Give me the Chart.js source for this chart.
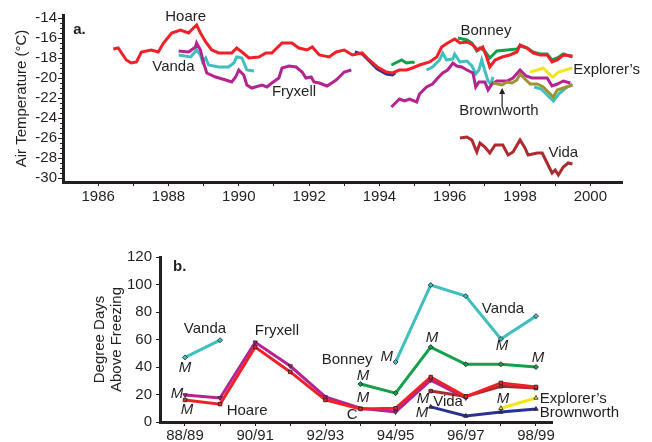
<!DOCTYPE html>
<html>
<head>
<meta charset="utf-8">
<script src="https://cdn.jsdelivr.net/npm/chart.js@4.4.0/dist/chart.umd.min.js"></script>
<style>
  body { margin: 0; background: #fff; }
  #wrap { position: relative; width: 652px; height: 442px; }
  canvas { position: absolute; left: 0; }
  #tempChart { top: 0; }
  #ddChart { top: 230px; }
</style>
</head>
<body>
<div id="wrap">
  <canvas id="tempChart" width="652" height="220"></canvas>
  <canvas id="ddChart" width="652" height="212"></canvas>
</div>
<script>
// ---------- panel a: running mean air temperature, [year, degC] ----------
const hoare = [[1986.43,-17.1],[1986.57,-17.0],[1986.8,-18.2],[1986.94,-18.5],[1987.09,-18.4],[1987.23,-17.4],
  [1987.51,-17.2],[1987.71,-17.4],[1987.86,-16.5],[1988.09,-15.5],[1988.34,-15.2],[1988.57,-15.5],[1988.71,-15.0],
  [1988.8,-14.7],[1988.91,-15.5],[1989.06,-16.4],[1989.23,-17.2],[1989.43,-17.5],[1989.8,-17.5],[1989.94,-17.0],
  [1990.09,-17.4],[1990.29,-18.0],[1990.57,-17.9],[1990.77,-17.5],[1990.94,-17.5],[1991.23,-16.5],[1991.51,-16.5],
  [1991.71,-17.0],[1991.94,-17.2],[1992.09,-16.9],[1992.29,-17.7],[1992.57,-17.9],[1992.77,-17.4],[1993.0,-17.2],
  [1993.23,-17.7],[1993.51,-17.5],[1993.71,-18.2],[1993.94,-18.9],[1994.2,-19.4],[1994.37,-19.5],[1994.57,-19.2],
  [1994.77,-19.2],[1994.94,-19.0],[1995.14,-18.7],[1995.43,-18.4],[1995.63,-17.9],[1995.77,-16.9],[1995.94,-16.5],
  [1996.14,-16.1],[1996.29,-16.5],[1996.49,-16.4],[1996.66,-16.7],[1996.8,-17.2],[1996.94,-16.9],[1997.06,-18.0],
  [1997.14,-18.9],[1997.29,-18.2],[1997.49,-17.9],[1997.71,-17.7],[1997.91,-17.4],[1998.0,-16.7],[1998.2,-17.0],
  [1998.37,-17.5],[1998.57,-17.7],[1998.77,-17.7],[1998.91,-18.4],[1999.06,-18.2],[1999.23,-17.7],[1999.49,-17.8]];
const vandaA = [[1988.29,-17.7],[1988.63,-17.9],[1988.8,-17.2],[1988.91,-17.7],[1988.97,-18.4],[1989.06,-18.0],
  [1989.14,-18.7],[1989.43,-18.9],[1989.71,-18.9],[1989.86,-18.5],[1989.94,-17.9],[1990.09,-18.0],[1990.23,-19.2],[1990.43,-19.3]];
const vandaB = [[1995.34,-19.2],[1995.51,-18.9],[1995.71,-18.2],[1995.8,-17.5],[1995.91,-18.2],[1996.09,-18.1],
  [1996.14,-17.6],[1996.29,-18.4],[1996.49,-18.3],[1996.63,-18.8],[1996.74,-19.6],[1996.83,-19.2],[1996.91,-18.2],
  [1997.0,-19.3],[1997.09,-20.3],[1997.17,-20.6],[1997.23,-19.9]];
const vandaC = [[1998.4,-20.9],[1998.6,-21.1],[1998.8,-21.8],[1998.95,-22.3],[1999.1,-21.6],[1999.3,-21.0],[1999.49,-20.6]];
const fryxellA = [[1988.29,-17.3],[1988.57,-17.4],[1988.77,-16.9],[1988.8,-16.5],[1988.91,-17.2],[1989.0,-18.5],
  [1989.09,-19.5],[1989.34,-19.9],[1989.63,-20.2],[1989.8,-20.4],[1989.91,-19.9],[1990.0,-19.2],[1990.14,-19.7],
  [1990.23,-20.7],[1990.37,-21.0],[1990.66,-20.7],[1990.8,-20.9],[1990.94,-20.5],[1991.14,-20.0],[1991.23,-19.0],
  [1991.43,-18.8],[1991.63,-18.9],[1991.8,-19.4],[1991.91,-20.0],[1992.06,-19.9],[1992.14,-20.4],[1992.29,-20.5],
  [1992.51,-20.8],[1992.77,-20.2],[1993.0,-19.4],[1993.2,-19.2]];
const fryxellB = [[1994.34,-22.9],[1994.57,-22.1],[1994.71,-22.3],[1994.86,-22.1],[1995.06,-22.4],[1995.14,-21.6],
  [1995.34,-20.9],[1995.51,-20.6],[1995.66,-20.0],[1995.8,-19.5],[1995.94,-19.2],[1996.09,-18.5],[1996.2,-18.8],
  [1996.34,-18.9],[1996.49,-19.2],[1996.66,-19.5],[1996.74,-20.9],[1996.83,-20.4],[1997.0,-20.4],[1997.09,-21.2],
  [1997.2,-20.6],[1997.34,-20.3],[1997.63,-20.3],[1997.8,-20.0],[1998.0,-19.2],[1998.17,-19.8],[1998.34,-20.0],
  [1998.57,-20.0],[1998.77,-20.0],[1998.91,-20.8],[1999.06,-20.6],[1999.23,-20.3],[1999.43,-20.5]];
const bonneyA = [[1994.34,-18.7],[1994.63,-18.2],[1994.77,-18.5],[1994.94,-18.4],[1995.0,-18.5]];
const bonneyB = [[1996.23,-16.0],[1996.49,-16.2],[1996.63,-16.5],[1996.77,-17.3],[1996.86,-17.0],[1997.0,-17.3],
  [1997.14,-18.0],[1997.34,-17.3],[1997.63,-17.2],[1997.91,-17.1],[1998.0,-16.8],[1998.2,-17.0],[1998.37,-17.4],
  [1998.57,-17.6],[1998.77,-17.6],[1998.91,-18.2],[1999.06,-18.0],[1999.23,-17.6],[1999.49,-17.9]];
const commonwealth = [[1993.3,-17.4],[1993.51,-17.6],[1993.71,-18.3],[1993.94,-19.1],[1994.2,-19.6],[1994.37,-19.7],[1994.45,-19.5]];
const brownworth = [[1997.23,-20.5],[1997.49,-20.7],[1997.63,-20.4],[1997.77,-20.5],[1997.91,-20.2],[1998.0,-19.6],
  [1998.14,-20.1],[1998.29,-20.6],[1998.49,-20.6],[1998.66,-20.9],[1998.86,-21.6],[1998.94,-21.9],[1999.06,-21.2],
  [1999.23,-21.0],[1999.49,-20.7]];
const explorers = [[1998.29,-19.4],[1998.49,-19.2],[1998.66,-19.0],[1998.86,-19.7],[1998.94,-19.9],[1999.09,-19.4],
  [1999.29,-19.2],[1999.49,-19.0]];
const vida = [[1996.29,-26.0],[1996.49,-25.9],[1996.63,-26.2],[1996.77,-27.4],[1996.86,-26.5],[1997.0,-26.9],
  [1997.14,-27.5],[1997.29,-26.7],[1997.51,-26.7],[1997.66,-27.7],[1997.8,-27.4],[1998.0,-26.2],[1998.14,-27.0],
  [1998.23,-27.7],[1998.49,-27.5],[1998.63,-27.5],[1998.77,-28.5],[1998.91,-29.5],[1999.0,-29.2],[1999.09,-29.7],
  [1999.23,-28.9],[1999.37,-28.5],[1999.49,-28.6]];
const yearTicks = [1986,1987,1988,1989,1990,1991,1992,1993,1994,1995,1996,1997,1998,1999,2000];
const tempTicks = [-30,-28,-26,-24,-22,-20,-18,-16,-14];

// ---------- panel b: degree days above freezing per season ----------
const seasons = ['88/89','89/90','90/91','91/92','92/93','93/94','94/95','95/96','96/97','97/98','98/99'];
const vandaDD      = [47, 59.5, null, null, null, null, 43.6, 99.6, 91.6, 60.4, 77];
const bonneyDD     = [null, null, null, null, null, 27.6, 21, 54.5, 42, 42, 40];
const fryxellDD    = [19.6, 17.5, 58, 40.7, 18.2, 10, 7.3, 30.5, 17.5, null, null];
const vidaDD       = [null, null, null, null, null, null, null, 22.5, 18.5, 26, 24.7];
const hoareDD      = [16, 13, 54.5, 36.4, 16, 9.5, 10, 32.7, 18.5, 28.4, 25.5];
const brownworthDD = [null, null, null, null, null, null, null, 11, 4.4, 7.3, 9.4];
const explorersDD  = [null, null, null, null, null, null, null, null, null, 10, 17.5];
const ddTicks = [0, 20, 40, 60, 80, 100, 120];

const INK = '#231f20';
const FONT = '"Liberation Sans", Arial, sans-serif';
Chart.defaults.font.family = FONT;
Chart.defaults.font.size = 15;
Chart.defaults.color = INK;

const pts = arr => arr.map(p => ({x: p[0], y: p[1]}));
const seasonPts = arr => arr.map((v, i) => ({x: i, y: v}));

// text notes, arrow and minor ticks, placed through the chart scales
const notesPlugin = {
  id: 'notes',
  afterDatasetsDraw(chart, args, opts) {
    const {ctx, scales: {x, y}} = chart;
    ctx.save();
    ctx.strokeStyle = INK;
    ctx.fillStyle = INK;
    if (opts.minorY) {
      ctx.lineWidth = 1;
      for (let v = Math.ceil(y.min / opts.minorY) * opts.minorY; v <= y.max; v += opts.minorY) {
        const py = Math.round(y.getPixelForValue(v)) + 0.5;
        ctx.beginPath();
        ctx.moveTo(x.left - 3, py);
        ctx.lineTo(x.left, py);
        ctx.stroke();
      }
    }
    if (opts.arrow) {
      const a = opts.arrow;
      const ax = x.getPixelForValue(a.x), y1 = y.getPixelForValue(a.y1), y2 = y.getPixelForValue(a.y2);
      ctx.lineWidth = 1.2;
      ctx.beginPath();
      ctx.moveTo(ax, y1);
      ctx.lineTo(ax, y2 + 4);
      ctx.stroke();
      ctx.beginPath();
      ctx.moveTo(ax, y2);
      ctx.lineTo(ax - 3, y2 + 6);
      ctx.lineTo(ax + 3, y2 + 6);
      ctx.closePath();
      ctx.fill();
    }
    ctx.textBaseline = 'middle';
    (opts.items || []).forEach(n => {
      ctx.font = (n.style || '') + ' 15px ' + FONT;
      ctx.textAlign = n.align || 'center';
      ctx.fillText(n.text, x.getPixelForValue(n.x), y.getPixelForValue(n.y));
    });
    ctx.restore();
  }
};

const line = (label, data, color) => ({label, data: pts(data), borderColor: color, borderWidth: 3, pointRadius: 0, tension: 0});

new Chart(document.getElementById('tempChart'), {
  type: 'line',
  data: {
    datasets: [
      line('Hoare', hoare, '#ee2028'),
      line('Explorer\u2019s', explorers, '#f3e61a'),
      line('Brownworth', brownworth, '#9c9432'),
      line('Fryxell', fryxellA, '#b52390'),
      line('Fryxell', fryxellB, '#b52390'),
      line('Vanda', vandaA, '#3fbfbd'),
      line('Vanda', vandaB, '#3fbfbd'),
      line('Vanda', vandaC, '#3fbfbd'),
      line('Bonney', bonneyA, '#12a04a'),
      line('Bonney', bonneyB, '#12a04a'),
      line('Commonwealth', commonwealth, '#2b3192'),
      line('Vida', vida, '#ad2a2e')
    ]
  },
  options: {
    responsive: false,
    animation: false,
    layout: {padding: {left: 0, top: 15, right: 30, bottom: 0}},
    plugins: {
      legend: {display: false},
      tooltip: {enabled: false},
      notes: {
        minorY: 0.5,
        arrow: {x: 1997.49, y1: -22.9, y2: -21.0},
        items: [
          {text: 'a.', x: 1985.29, y: -15.2, align: 'left', style: 'bold'},
          {text: 'Hoare', x: 1988.49, y: -13.9},
          {text: 'Vanda', x: 1988.14, y: -18.9},
          {text: 'Fryxell', x: 1991.57, y: -21.4},
          {text: 'Bonney', x: 1997.03, y: -15.3},
          {text: 'Explorer\u2019s', x: 1999.51, y: -19.2, align: 'left'},
          {text: 'Brownworth', x: 1997.4, y: -23.3},
          {text: 'Vida', x: 1999.23, y: -27.5}
        ]
      }
    },
    scales: {
      x: {
        type: 'linear', min: 1985, max: 2000.9,
        afterBuildTicks: s => { s.ticks = yearTicks.map(v => ({value: v})); },
        afterFit: s => { s.height = 38; },
        ticks: {callback: v => (v % 2 === 0 ? String(v) : ''), autoSkip: false, maxRotation: 0, padding: 2},
        grid: {drawOnChartArea: false, tickLength: 4, color: INK},
        border: {color: INK, width: 3}
      },
      y: {
        min: -30.4, max: -13.7,
        afterBuildTicks: s => { s.ticks = tempTicks.map(v => ({value: v})); },
        afterFit: s => { s.width = 63; },
        title: {display: true, text: 'Air Temperature (\u00B0C)', padding: {top: 13, bottom: 0}, font: {size: 15}},
        ticks: {padding: 1, autoSkip: false},
        grid: {drawOnChartArea: false, tickLength: 5, color: INK},
        border: {color: INK, width: 3}
      }
    }
  },
  plugins: [notesPlugin]
});

const ddLine = (label, data, color, shape, rot) => ({
  label, data: seasonPts(data), borderColor: color, borderWidth: 3, tension: 0,
  pointStyle: shape, pointRotation: rot || 0, pointRadius: 2.5,
  pointBackgroundColor: color, pointBorderColor: INK, pointBorderWidth: 0.8
});

new Chart(document.getElementById('ddChart'), {
  type: 'line',
  data: {
    datasets: [
      ddLine('Explorer\u2019s', explorersDD, '#f3e61a', 'triangle'),
      ddLine('Brownworth', brownworthDD, '#2b3192', 'triangle'),
      ddLine('Hoare', hoareDD, '#ee2028', 'rect'),
      ddLine('Vida', vidaDD, '#ad2a2e', 'rect'),
      ddLine('Fryxell', fryxellDD, '#b52390', 'triangle', 180),
      ddLine('Bonney', bonneyDD, '#12a04a', 'rectRot'),
      ddLine('Vanda', vandaDD, '#3fbfbd', 'rectRot')
    ]
  },
  options: {
    responsive: false,
    animation: false,
    layout: {padding: {left: 0, top: 27, right: 100, bottom: 0}},
    plugins: {
      legend: {display: false},
      tooltip: {enabled: false},
      notes: {
        items: [
          {text: 'b.', x: -0.34, y: 112.7, align: 'left', style: 'bold'},
          {text: 'Vanda', x: 0.57, y: 67.6},
          {text: 'Fryxell', x: 2.62, y: 66.2},
          {text: 'M', x: 0, y: 39.3, style: 'italic'},
          {text: 'M', x: -0.23, y: 20.4, style: 'italic'},
          {text: 'M', x: 0.06, y: 8.7, style: 'italic'},
          {text: 'Hoare', x: 1.77, y: 8},
          {text: 'Bonney', x: 4.62, y: 45.1},
          {text: 'M', x: 5.07, y: 33.5, style: 'italic'},
          {text: 'M', x: 5.07, y: 17.5, style: 'italic'},
          {text: 'C', x: 4.76, y: 5.1},
          {text: 'M', x: 5.75, y: 47.3, style: 'italic'},
          {text: 'M', x: 7.04, y: 61.1, style: 'italic'},
          {text: 'Vanda', x: 9.06, y: 82.2},
          {text: 'M', x: 9.03, y: 55.3, style: 'italic'},
          {text: 'M', x: 10.06, y: 46.5, style: 'italic'},
          {text: 'M', x: 6.78, y: 16.7, style: 'italic'},
          {text: 'Vida', x: 7.07, y: 14.5, align: 'left'},
          {text: 'M', x: 6.75, y: 6.5, style: 'italic'},
          {text: 'M', x: 9.06, y: 16.7, style: 'italic'},
          {text: 'Explorer\u2019s', x: 10.11, y: 16.7, align: 'left'},
          {text: 'Brownworth', x: 10.11, y: 6.5, align: 'left'}
        ]
      }
    },
    scales: {
      x: {
        type: 'linear', min: -0.712, max: 10.456,
        afterBuildTicks: s => { s.ticks = seasons.map((v, i) => ({value: i})); },
        afterFit: s => { s.height = 20; },
        ticks: {callback: v => (v % 2 === 0 ? seasons[v] : ''), autoSkip: false, maxRotation: 0, padding: 1},
        grid: {drawOnChartArea: false, tickLength: 4, color: INK},
        border: {color: INK, width: 3}
      },
      y: {
        min: 0, max: 120,
        afterBuildTicks: s => { s.ticks = ddTicks.map(v => ({value: v})); },
        afterFit: s => { s.width = 160; },
        title: {display: true, text: ['Degree Days', 'Above Freezing'], padding: {top: 91, bottom: 0},
                font: {size: 15, lineHeight: 1.15}},
        ticks: {padding: 4, autoSkip: false},
        grid: {drawOnChartArea: false, tickLength: 4, color: INK},
        border: {color: INK, width: 3}
      }
    }
  },
  plugins: [notesPlugin]
});
</script>
</body>
</html>
